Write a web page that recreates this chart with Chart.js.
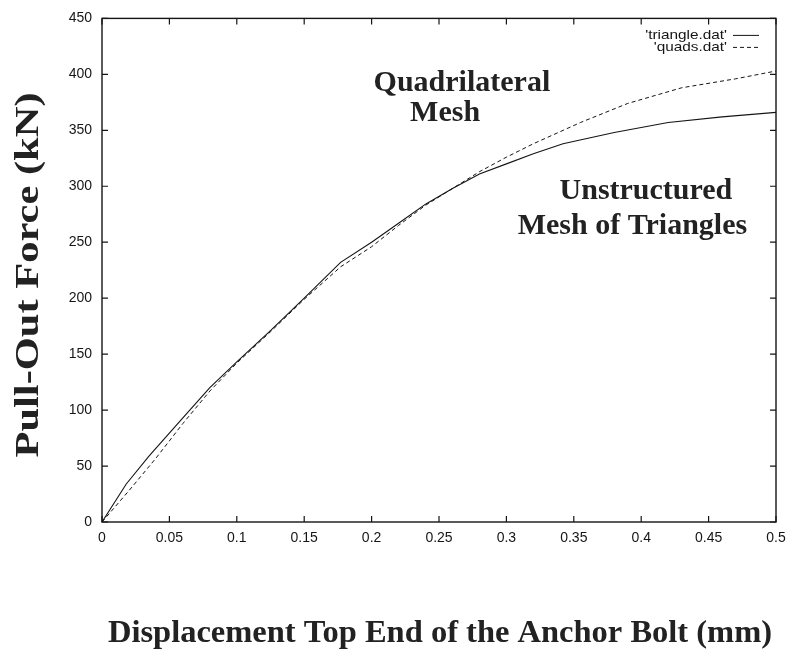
<!DOCTYPE html>
<html><head><meta charset="utf-8">
<script src="https://cdn.jsdelivr.net/npm/chart.js@4/dist/chart.umd.min.js"></script>
<style>html,body{margin:0;padding:0;background:#fff}#wrap{width:796px;height:666px}</style>
</head><body><div id="wrap"><canvas id="c" width="796" height="666"></canvas></div>
<script>
// ---- data ----
const triangleX = [0, 0.018, 0.035, 0.06, 0.08, 0.1, 0.125, 0.15, 0.177, 0.2, 0.22, 0.24, 0.26, 0.28, 0.3, 0.32, 0.342, 0.38, 0.42, 0.46, 0.5];
const triangleY = [0, 34, 59, 93, 120, 143, 171, 200, 232, 250, 267, 284, 298, 311, 320, 329, 338, 348, 357, 362, 366];
const quadsX = [0, 0.02, 0.04, 0.06, 0.08, 0.1, 0.125, 0.15, 0.177, 0.2, 0.22, 0.24, 0.26, 0.28, 0.3, 0.32, 0.355, 0.39, 0.43, 0.47, 0.5];
const quadsY = [0, 28, 57, 88, 117, 142, 170, 199, 228, 246, 265, 283, 298, 313, 326, 338, 357, 374, 388, 396, 403];
const seriesLabels = ["'triangle.dat'", "'quads.dat'"];
const xTicks = [0, 0.05, 0.1, 0.15, 0.2, 0.25, 0.3, 0.35, 0.4, 0.45, 0.5];
const yTicks = [0, 50, 100, 150, 200, 250, 300, 350, 400, 450];
const xTitle = 'Displacement Top End of the Anchor Bolt (mm)';
const yTitle = 'Pull-Out Force (kN)';
const noteTexts = ['Quadrilateral', 'Mesh', 'Unstructured', 'Mesh of Triangles'];

// ---- build ----
const toPts = (xs, ys) => xs.map((x, i) => ({x, y: ys[i]}));
const notePos = [[0.267, 385], [0.2545, 358], [0.4035, 289], [0.3935, 257]];
const INK = '#151515';
const serif = '"Liberation Serif", "Times New Roman", serif';
const sans = '"Liberation Sans", Arial, sans-serif';

const framePlugin = {
  id: 'frame',
  afterDatasetsDraw(chart) {
    const {ctx, chartArea: a, scales: {x, y}} = chart;
    ctx.save();
    ctx.strokeStyle = INK;
    ctx.lineWidth = 1.4;
    ctx.strokeRect(a.left, a.top, a.right - a.left, a.bottom - a.top);
    ctx.lineWidth = 1.2;
    const tl = 6;
    ctx.beginPath();
    x.ticks.forEach(t => {
      const px = x.getPixelForValue(t.value);
      ctx.moveTo(px, a.bottom); ctx.lineTo(px, a.bottom - tl);
      ctx.moveTo(px, a.top); ctx.lineTo(px, a.top + tl);
    });
    y.ticks.forEach(t => {
      const py = y.getPixelForValue(t.value);
      ctx.moveTo(a.left, py); ctx.lineTo(a.left + tl, py);
      ctx.moveTo(a.right, py); ctx.lineTo(a.right - tl, py);
    });
    ctx.stroke();

    // legend (inside, top-right, gnuplot style)
    ctx.font = '13px ' + sans;
    ctx.fillStyle = INK;
    chart.data.datasets.forEach((ds, i) => {
      const by = a.top + 21 + i * 12;
      ctx.save();
      ctx.translate(a.right - 49, by);
      ctx.scale(1.18, 1);
      ctx.textAlign = 'right';
      ctx.textBaseline = 'alphabetic';
      ctx.fillText(ds.label, 0, 0);
      ctx.restore();
      ctx.beginPath();
      ctx.setLineDash(ds.borderDash || []);
      ctx.lineWidth = 1;
      ctx.moveTo(a.right - 43, by - 4);
      ctx.lineTo(a.right - 17, by - 4);
      ctx.stroke();
      ctx.setLineDash([]);
    });

    // annotations
    ctx.font = 'bold 30px ' + serif;
    ctx.fillStyle = '#222';
    ctx.textAlign = 'center';
    ctx.textBaseline = 'alphabetic';
    noteTexts.forEach((t, i) => {
      ctx.fillText(t, x.getPixelForValue(notePos[i][0]), y.getPixelForValue(notePos[i][1]));
    });

    // axis titles
    ctx.font = 'bold 32.5px ' + serif;
    ctx.fillText(xTitle, (a.left + a.right) / 2 + 1, a.bottom + 120);
    ctx.save();
    ctx.font = 'bold 34px ' + serif;
    ctx.translate(38, 275);
    ctx.rotate(-Math.PI / 2);
    ctx.scale(1.25, 1);
    ctx.fillText(yTitle, 0, 0);
    ctx.restore();
    ctx.restore();
  }
};

new Chart(document.getElementById('c'), {
  type: 'line',
  data: {
    datasets: [
      {label: seriesLabels[0], data: toPts(triangleX, triangleY), borderColor: INK, borderWidth: 1.1, pointRadius: 0, tension: 0, fill: false},
      {label: seriesLabels[1], data: toPts(quadsX, quadsY), borderColor: INK, borderWidth: 1, borderDash: [4, 3], pointRadius: 0, tension: 0, fill: false}
    ]
  },
  options: {
    responsive: false,
    animation: false,
    devicePixelRatio: 1,
    layout: {padding: {top: 13, right: 20, left: 0, bottom: 0}},
    plugins: {legend: {display: false}, tooltip: {enabled: false}},
    scales: {
      x: {
        type: 'linear', min: 0, max: 0.5,
        afterBuildTicks: s => { s.ticks = xTicks.map(v => ({value: v})); },
        afterFit: s => { s.height = 144; },
        grid: {display: false, drawTicks: false},
        border: {display: false},
        ticks: {font: {family: sans, size: 14}, color: INK, padding: 8, maxRotation: 0, autoSkip: false,
          callback: v => String(+(+v).toFixed(2))}
      },
      y: {
        type: 'linear', min: 0, max: 450,
        afterBuildTicks: s => { s.ticks = yTicks.map(v => ({value: v})); },
        afterFit: s => { s.width = 102; },
        grid: {display: false, drawTicks: false},
        border: {display: false},
        ticks: {font: {family: sans, size: 14}, color: INK, padding: 10, autoSkip: false}
      }
    }
  },
  plugins: [framePlugin]
});
</script>
</body></html>
